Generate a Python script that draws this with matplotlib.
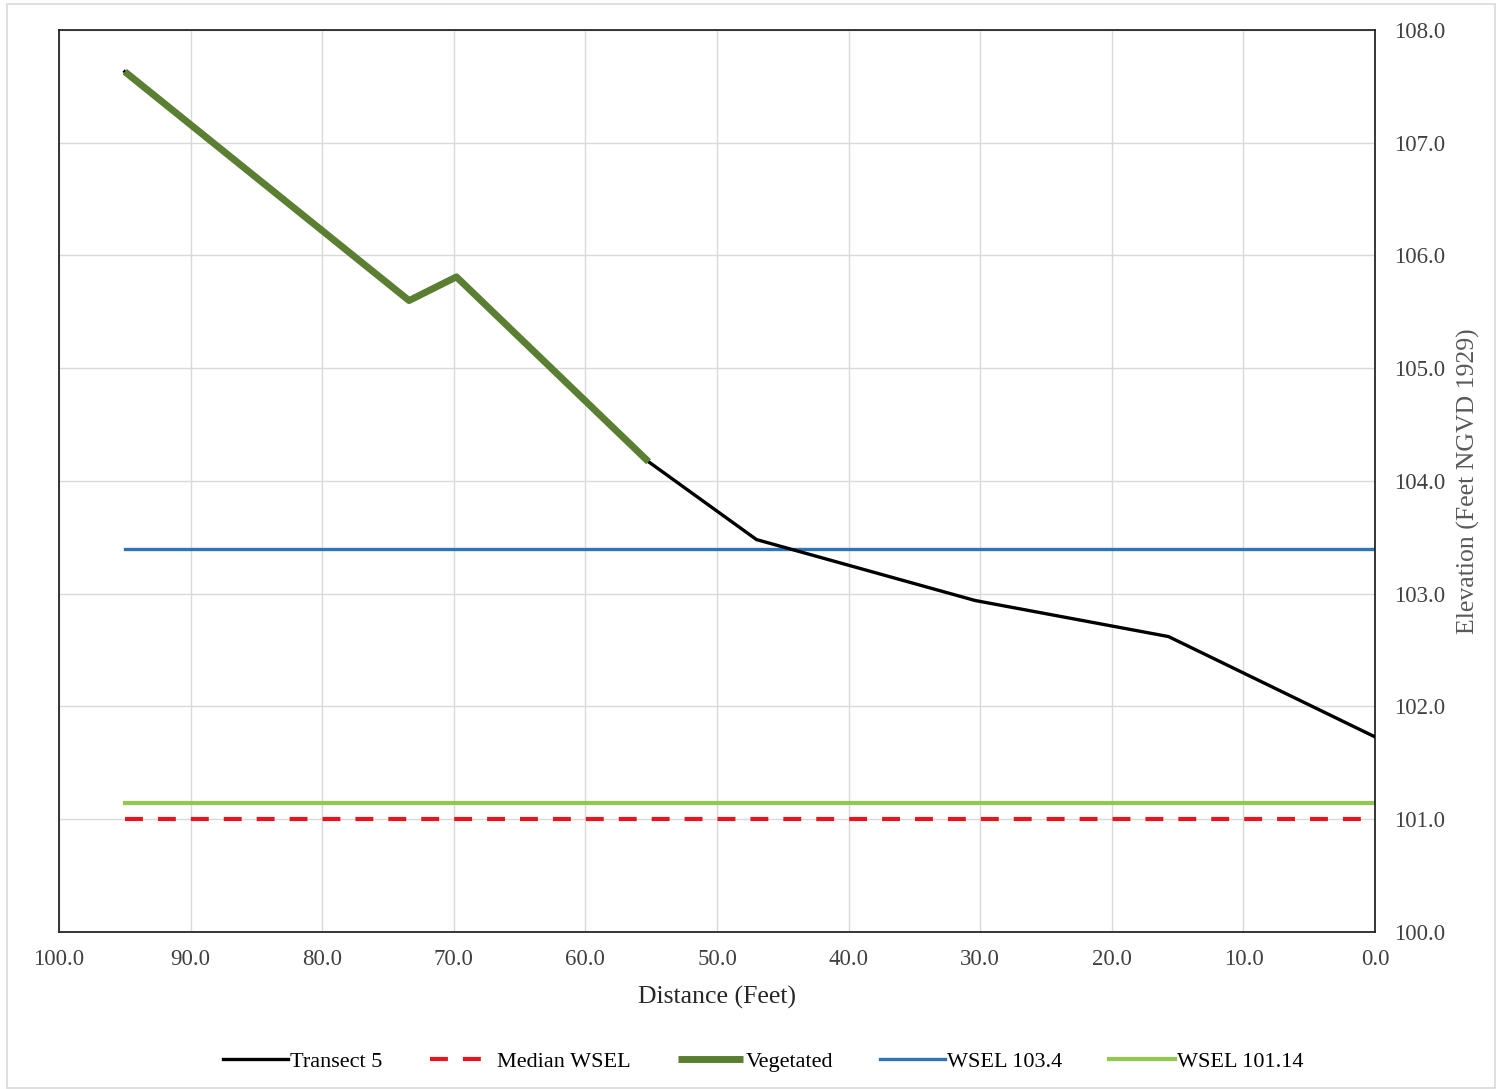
import matplotlib
matplotlib.use("Agg")
import matplotlib.pyplot as plt
from matplotlib.patches import Rectangle

# Datos
distancia = [95.0, 73.4, 69.8, 55.2, 47.0, 30.4, 15.7, 0.0]
elevacion = [107.63, 105.60, 105.81, 104.17, 103.48, 102.94, 102.62, 101.73]

veg_distancia = [95.0, 73.4, 69.8, 55.2]
veg_elevacion = [107.63, 105.60, 105.81, 104.17]

wsel_x = [95.0, 0.0]
median_wsel = 101.0
wsel_alto = 103.4
wsel_bajo = 101.14

x_ticks = [100, 90, 80, 70, 60, 50, 40, 30, 20, 10, 0]
y_ticks = [100, 101, 102, 103, 104, 105, 106, 107, 108]

plt.rcParams['font.family'] = ['Liberation Serif', 'DejaVu Serif']

fig = plt.figure(figsize=(15.01, 10.89), dpi=100)
ax = fig.add_axes([0.0393, 0.1442, 0.8768, 0.8283])

# Borde exterior gris claro
fig.patches.append(Rectangle((7 / 1501, 1 / 1089), 1488 / 1501, 1084 / 1089,
                             transform=fig.transFigure, fill=False,
                             edgecolor='#d9d9d9', linewidth=1.2))

ax.plot(distancia, elevacion, color='black', linewidth=2.4, label='Transect 5', zorder=3)
ax.plot(wsel_x, [median_wsel] * 2, color='#e8141e', linewidth=3, linestyle=(0, (4.3, 3.6)),
        dash_capstyle='butt', label='Median WSEL', zorder=3)
ax.plot(veg_distancia, veg_elevacion, color='#5b7f32', linewidth=5, label='Vegetated',
        solid_capstyle='butt', zorder=4)
ax.plot(wsel_x, [wsel_alto] * 2, color='#2e75b6', linewidth=2.4, label='WSEL 103.4', zorder=2)
ax.plot(wsel_x, [wsel_bajo] * 2, color='#92c84e', linewidth=3, label='WSEL 101.14', zorder=2)

ax.set_xlim(100, 0)
ax.set_ylim(100, 108)
ax.set_xticks(x_ticks)
ax.set_yticks(y_ticks)
ax.set_xticklabels([f"{v:.1f}" for v in x_ticks])
ax.set_yticklabels([f"{v:.1f}" for v in y_ticks])
ax.yaxis.tick_right()
ax.yaxis.set_label_position('right')
ax.tick_params(axis='both', length=0, labelsize=16.5, colors='#404040', pad=12)
ax.tick_params(axis='y', pad=14)

ax.grid(True, color='#d9d9d9', linewidth=1)
ax.set_axisbelow(True)
for s in ax.spines.values():
    s.set_color('#262626')
    s.set_linewidth(1.3)

ax.set_xlabel("Distance (Feet)", fontsize=18.5, color='#262626', labelpad=12)
ax.set_ylabel("Elevation (Feet NGVD 1929)", fontsize=18.5, color='#595959', labelpad=8,
              rotation=90)

ax.legend(loc='upper center', bbox_to_anchor=(0.535, -0.11), ncol=5, frameon=False,
          fontsize=16, handlelength=2.95, handletextpad=0.1, columnspacing=2.1)

fig.savefig("out.png", dpi=100)
